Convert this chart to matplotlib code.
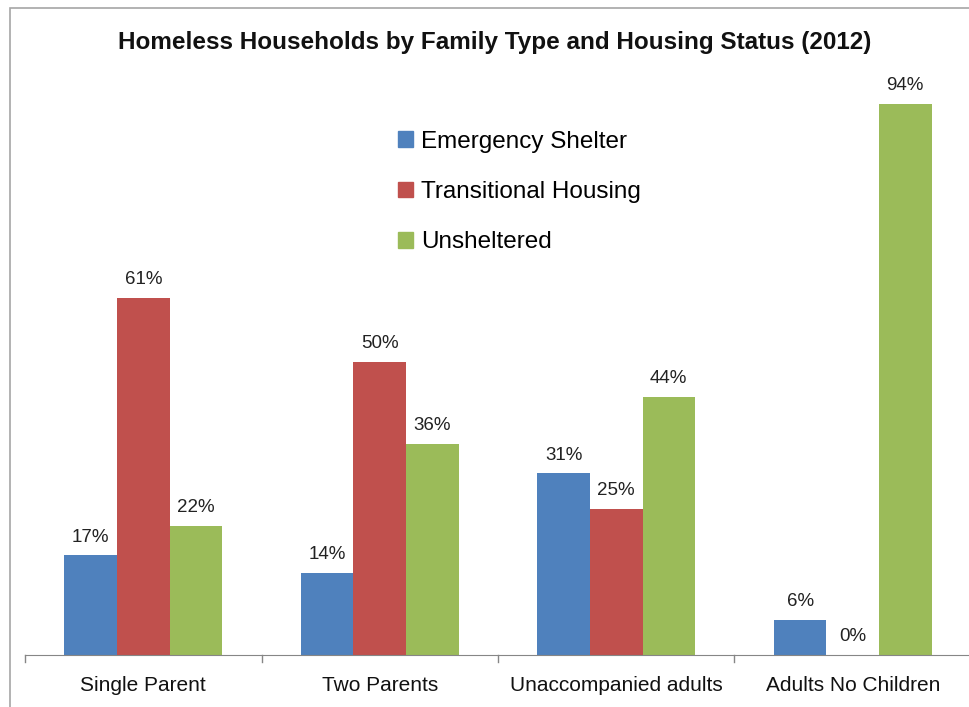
import numpy as np
import matplotlib.pyplot as plt
from matplotlib.patches import Rectangle

categories = ['Single Parent', 'Two Parents', 'Unaccompanied adults', 'Adults No Children']
series = ['Emergency Shelter', 'Transitional Housing', 'Unsheltered']
emergency = [17, 14, 31, 6]
transitional = [61, 50, 25, 0]
unsheltered = [22, 36, 44, 94]
colors = ['#4f81bd', '#c0504d', '#9bbb59']

plt.rcParams['font.family'] = ['Liberation Sans', 'DejaVu Sans']

W, H = 969, 707
fig = plt.figure(figsize=(W / 100, H / 100), dpi=100)

# chart border (cut off on the right and bottom)
fig.patches.append(Rectangle((10 / W, -0.1), 2, (H - 8) / H + 0.1,
                             transform=fig.transFigure, fill=False,
                             edgecolor='#a6a6a6', lw=1.2))

ax = fig.add_axes([25 / W, 52 / H, (971 - 25) / W, (655 - 69) / H])
x = np.arange(len(categories))
bw = 0.222
for i, (vals, name) in enumerate(zip([emergency, transitional, unsheltered], series)):
    pos = x + (i - 1) * bw
    ax.bar(pos, vals, width=bw, color=colors[i], label=name, zorder=2)
    for p, v in zip(pos, vals):
        ax.annotate(f'{v}%', xy=(p, v), xytext=(0, 7), textcoords='offset points',
                    ha='center', va='bottom', fontsize=13.5, color='#222')

ax.set_xlim(-0.5, len(categories) - 0.5)
ax.set_ylim(0, 100)
ax.set_yticks([])
for s in ['top', 'right', 'left']:
    ax.spines[s].set_visible(False)
ax.spines['bottom'].set_color('#868686')
ax.set_xticks(x)
ax.set_xticklabels(categories, fontsize=15, color='#111')
ax.tick_params(axis='x', length=0, pad=15)
for b in np.arange(-0.5, len(categories) - 0.5, 1.0):
    ax.plot([b, b], [0, -1.2], color='#868686', lw=1, clip_on=False)

handles = [Rectangle((0, 0), 1, 1, color=c) for c in colors]
ax.legend(handles, series, loc='upper left', bbox_to_anchor=(0.394, 0.895),
          frameon=False, fontsize=17.5, handlelength=0.62, handleheight=0.62,
          handletextpad=0.33, labelspacing=1.17, borderpad=0, borderaxespad=0)

fig.text(0.511, 1 - 42 / H, 'Homeless Households by Family Type and Housing Status (2012)',
         ha='center', va='center', fontsize=17.5, fontweight='bold', color='#111')

fig.savefig('out.png', dpi=100, facecolor='white')
